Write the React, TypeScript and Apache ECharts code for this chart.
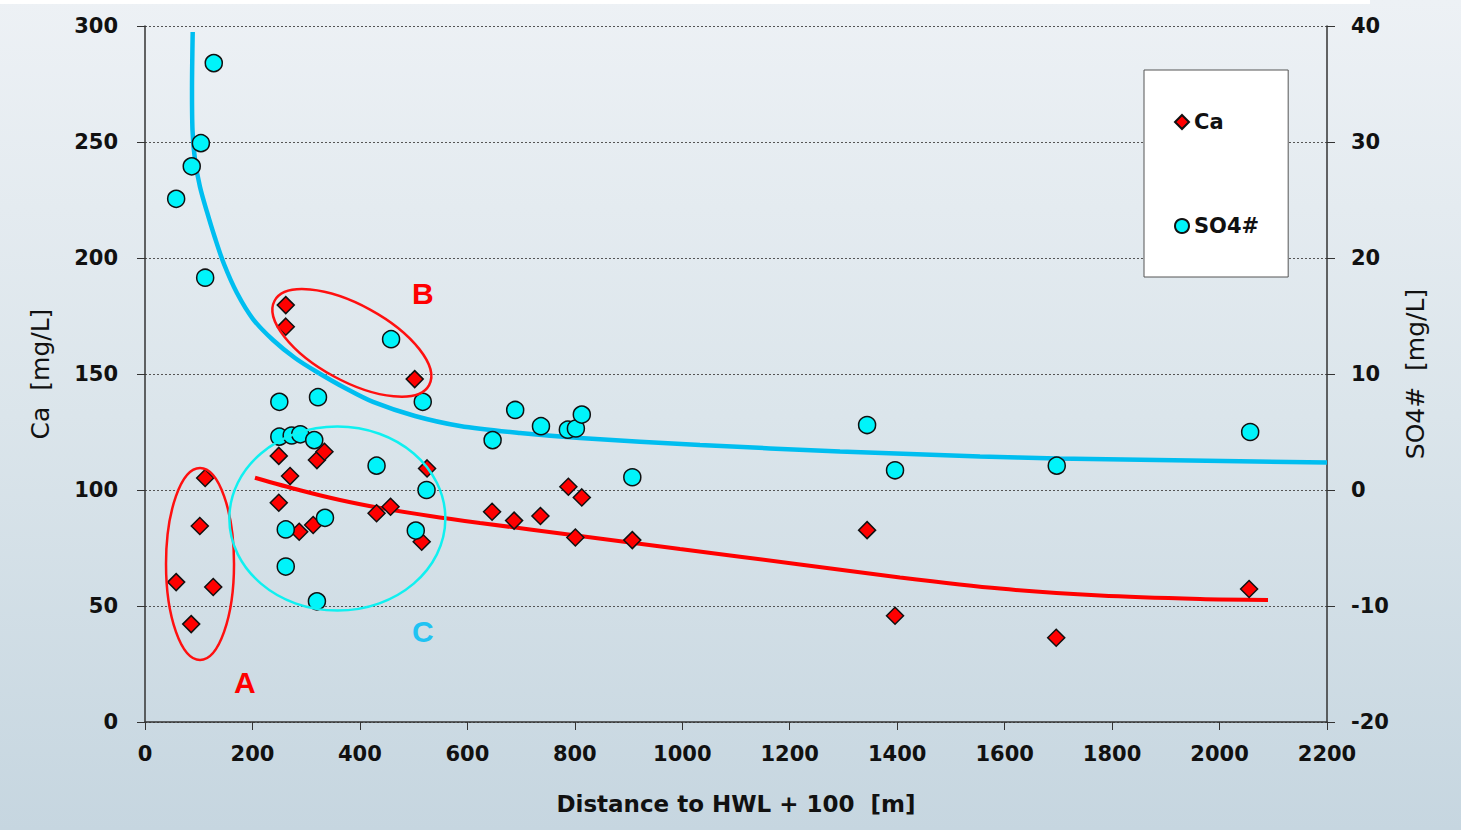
import React, { useEffect, useRef } from "react";
import * as echarts from "echarts";

// Ca scatter (left axis, mg/L)
const caX = [58, 86, 102, 112, 127, 262, 262, 502, 249, 270, 249, 320, 334, 287, 313, 431, 457, 525, 515, 646, 687, 736, 788, 813, 801, 907, 1344, 1396, 1696, 2055];
const caY = [60.3, 42.2, 84.5, 105.2, 58.2, 179.7, 170.4, 147.8, 114.7, 106, 94.5, 112.9, 116.5, 82, 84.9, 90, 92.8, 109.3, 77.7, 90.6, 86.8, 88.8, 101.4, 96.8, 79.5, 78.4, 82.7, 45.8, 36.3, 57.3];

// SO4# scatter (right axis, mg/L)
const so4X = [128, 104, 87, 58, 112, 458, 250, 322, 517, 250, 273, 289, 315, 431, 524, 335, 262, 504, 262, 320, 689, 737, 787, 802, 813, 647, 907, 1344, 1396, 1697, 2057];
const so4Y = [36.8, 29.9, 27.9, 25.1, 18.3, 13.0, 7.6, 8.0, 7.6, 4.6, 4.7, 4.8, 4.3, 2.1, 0.0, -2.4, -3.4, -3.5, -6.6, -9.6, 6.9, 5.5, 5.2, 5.3, 6.5, 4.3, 1.1, 5.6, 1.7, 2.1, 5.0];

// Trend curves
const caTrendX = [204.7, 288.5, 362.9, 437.4, 530.5, 623.5, 809.6, 995.8, 1219.1, 1405.2, 1591.4, 1777.5, 1963.6, 2090.2];
const caTrendY = [105.3, 99.9, 95.7, 92.3, 88.8, 85.8, 80.2, 74.6, 67.9, 62.3, 57.5, 54.5, 53.0, 52.6];
const so4TrendX = [88.8, 87.5, 88.4, 93.1, 102.4, 115.4, 130.3, 147.0, 171.2, 201.0, 238.2, 279.2, 320.1, 372.3, 424.4, 502.5, 586.3, 698.0, 809.6, 1033.0, 1293.6, 1554.1, 1697.5, 2200];
const so4TrendY = [39.48, 34.48, 31.03, 28.45, 26.12, 23.97, 21.72, 19.48, 16.98, 14.74, 12.93, 11.38, 10.17, 8.79, 7.59, 6.38, 5.52, 4.91, 4.48, 3.88, 3.32, 2.89, 2.72, 2.37];

// Annotations (data coords on x / Ca axis)
const ellipses = [
  { x: 102.4, y: 68.1, rx: 34, ry: 96, rot: 0, color: "#ff1010" },
  { x: 385, y: 163.4, rx: 88, ry: 38, rot: -0.5, color: "#ff1010" },
  { x: 358, y: 87.7, rx: 108, ry: 92, rot: 0, color: "#10f0f0" },
];
const letters = [
  { t: "A", x: 186, y: 17.2, color: "#ff0000" },
  { t: "B", x: 517, y: 184.9, color: "#ff0000" },
  { t: "C", x: 517, y: 39.2, color: "#1fc3f3" },
];

const FONT = "DejaVu Sans";

export default function App() {
  const ref = useRef<HTMLDivElement>(null);
  useEffect(() => {
    document.body.style.margin = "0";
    const chart = echarts.init(ref.current!, null, { renderer: "svg" });
    const labelStyle = { fontFamily: FONT, fontWeight: "bold" as const, fontSize: 21, color: "#111" };
    const axisLineStyle = { color: "#333", width: 1.5 };
    chart.setOption({
      animation: false,
      backgroundColor: "transparent",
      grid: { left: 145, right: 134, top: 26, bottom: 108 },
      legend: {
        left: 1144,
        top: 70,
        orient: "vertical",
        padding: [41, 29, 40, 30],
        itemGap: 82,
        itemWidth: 14,
        itemHeight: 14,
        backgroundColor: "#fff",
        borderColor: "#555",
        borderWidth: 1,
        textStyle: { fontFamily: FONT, fontWeight: "bold", fontSize: 21, color: "#111", lineHeight: 22 },
        data: [
          { name: "Ca", icon: "diamond" },
          { name: "SO4#", icon: "circle" },
        ],
      },
      xAxis: {
        type: "value",
        min: 0,
        max: 2200,
        interval: 200,
        name: "Distance to HWL + 100  [m]",
        nameLocation: "middle",
        nameGap: 70,
        nameTextStyle: { fontFamily: FONT, fontWeight: "bold", fontSize: 23, color: "#111" },
        axisLine: { show: true, lineStyle: axisLineStyle },
        axisTick: { show: true, length: 8, lineStyle: { color: "#333" } },
        axisLabel: { ...labelStyle, margin: 21, formatter: (v: number) => String(v) },
        splitLine: { show: false },
      },
      yAxis: [
        {
          type: "value",
          position: "left",
          min: 0,
          max: 300,
          interval: 50,
          name: "Ca  [mg/L]",
          nameLocation: "middle",
          nameGap: 92,
          nameRotate: 90,
          nameTextStyle: { fontFamily: FONT, fontSize: 25, color: "#111" },
          axisLine: { show: true, lineStyle: axisLineStyle },
          axisTick: { show: true, length: 8, lineStyle: { color: "#333" } },
          axisLabel: { ...labelStyle, margin: 27, formatter: (v: number) => String(v) },
          splitLine: { show: true, lineStyle: { color: "#555", width: 1, type: [2, 2] } },
        },
        {
          type: "value",
          position: "right",
          min: -20,
          max: 40,
          interval: 10,
          name: "SO4#  [mg/L]",
          nameLocation: "middle",
          nameGap: 76,
          nameRotate: 90,
          nameTextStyle: { fontFamily: FONT, fontSize: 25, color: "#111" },
          axisLine: { show: true, lineStyle: axisLineStyle },
          axisTick: { show: true, length: 8, lineStyle: { color: "#333" } },
          axisLabel: { ...labelStyle, margin: 24, formatter: (v: number) => String(v) },
          splitLine: { show: false },
        },
      ],
      series: [
        {
          name: "Ca trend",
          type: "line",
          yAxisIndex: 0,
          smooth: 0.3,
          showSymbol: false,
          symbol: "none",
          lineStyle: { color: "#ff0000", width: 4 },
          data: caTrendX.map((x, i) => [x, caTrendY[i]]),
          z: 2,
        },
        {
          name: "SO4 trend",
          type: "line",
          yAxisIndex: 1,
          smooth: 0.3,
          showSymbol: false,
          symbol: "none",
          lineStyle: { color: "#00bef0", width: 4.5 },
          data: so4TrendX.map((x, i) => [x, so4TrendY[i]]),
          z: 2,
        },
        {
          name: "Ca",
          type: "scatter",
          yAxisIndex: 0,
          symbol: "diamond",
          symbolSize: 17,
          itemStyle: { color: "#ff0000", borderColor: "#111", borderWidth: 1.5, opacity: 1 },
          data: caX.map((x, i) => [x, caY[i]]),
          z: 3,
        },
        {
          name: "SO4#",
          type: "scatter",
          yAxisIndex: 1,
          symbol: "circle",
          symbolSize: 17,
          itemStyle: { color: "#00f4fa", borderColor: "#111", borderWidth: 1.5, opacity: 1 },
          data: so4X.map((x, i) => [x, so4Y[i]]),
          z: 4,
        },
      ],
    });

    const toPx = (p: number[]) => chart.convertToPixel({ seriesIndex: 0 }, p) as number[];
    const graphics: any[] = [
      { type: "rect", left: 0, top: 0, z: -10, shape: { width: 1370, height: 4 }, style: { fill: "#ffffff" } },
    ];
    ellipses.forEach((e) => {
      const [px, py] = toPx([e.x, e.y]);
      graphics.push({
        type: "ellipse",
        x: px,
        y: py,
        rotation: e.rot,
        z: 10,
        shape: { cx: 0, cy: 0, rx: e.rx, ry: e.ry },
        style: { fill: "none", stroke: e.color, lineWidth: 2.5 },
      });
    });
    letters.forEach((l) => {
      const [px, py] = toPx([l.x, l.y]);
      graphics.push({
        type: "text",
        x: px,
        y: py,
        z: 10,
        style: {
          text: l.t,
          fill: l.color,
          fontFamily: "Liberation Sans, Arial",
          fontWeight: "bold",
          fontSize: 30,
          align: "center",
          verticalAlign: "middle",
        },
      });
    });
    chart.setOption({ graphic: graphics });
    return () => chart.dispose();
  }, []);
  return (
    <div
      ref={ref}
      style={{
        width: 1461,
        height: 830,
        background: "linear-gradient(to bottom, #edf1f5 0%, #dbe5eb 50%, #c6d6e0 100%)",
      }}
    />
  );
}
